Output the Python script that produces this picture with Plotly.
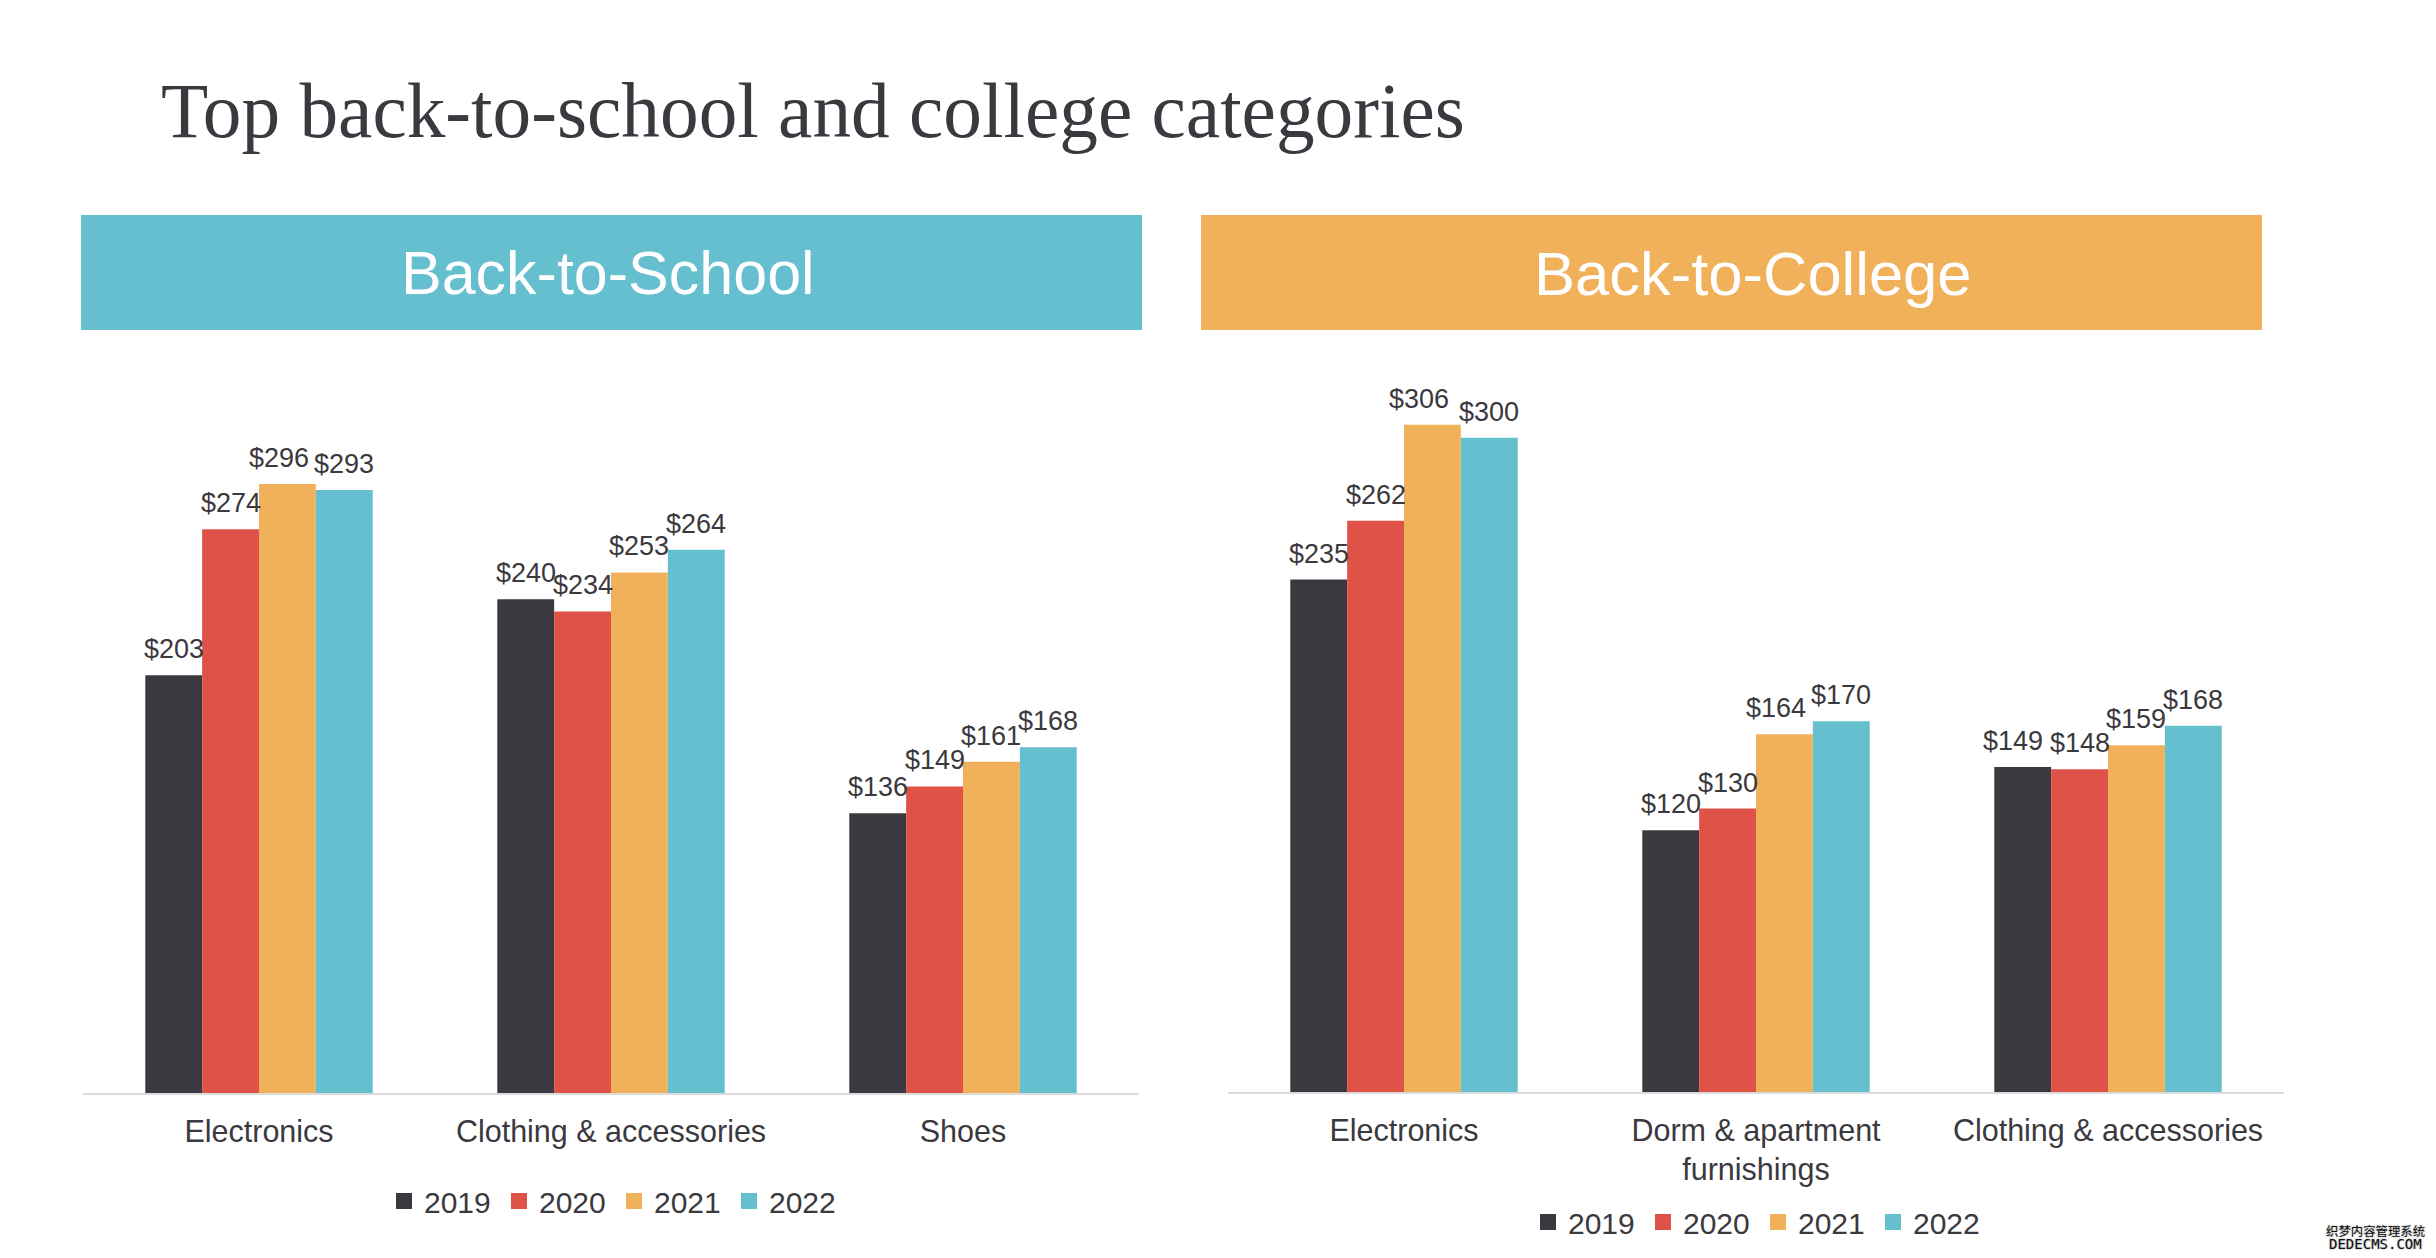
import plotly.graph_objects as go

W, H = 2436, 1258

years = ["2019", "2020", "2021", "2022"]
colors = ["#3b3840", "#df5247", "#f1b15b", "#66bfcf"]

school_categories = ["Electronics", "Clothing & accessories", "Shoes"]
school_2019 = [203, 240, 136]
school_2020 = [274, 234, 149]
school_2021 = [296, 253, 161]
school_2022 = [293, 264, 168]

college_categories = ["Electronics", "Dorm & apartment<br>furnishings", "Clothing & accessories"]
college_2019 = [235, 120, 149]
college_2020 = [262, 130, 148]
college_2021 = [306, 164, 159]
college_2022 = [300, 170, 168]

school_series = [school_2019, school_2020, school_2021, school_2022]
college_series = [college_2019, college_2020, college_2021, college_2022]

INK = "#3b3840"
SANS = "Liberation Sans, Arial, sans-serif"
SERIF = "Liberation Serif, Times New Roman, serif"

BAR_GAP = 0.354
CATEGORY_PX = 352  # axis length / 3 categories
BAR_PX = CATEGORY_PX * (1 - BAR_GAP) / len(years)
# (panel, series index, category index) -> sideways nudge of labels moved by hand in the original
label_nudge = {("x", 2, 0): -8, ("x2", 2, 0): -13, ("x2", 2, 1): -8, ("x2", 0, 2): -10}


def px(x):
    return (x - 8) / W  # the page has an 8 px body margin


def py(y):
    return 1 - (y - 8) / H


fig = go.Figure()
label_annotations = []

for i, year in enumerate(years):
    for cats, series, xa, ya in (
        (school_categories, school_series, "x", "y"),
        (college_categories, college_series, "x2", "y2"),
    ):
        fig.add_trace(go.Bar(
            x=cats, y=series[i], name=year, xaxis=xa, yaxis=ya,
            marker=dict(color=colors[i], line=dict(width=0)),
            showlegend=False, hoverinfo="x+y",
        ))
        for j, v in enumerate(series[i]):
            label_annotations.append(dict(
                text=f"${v}", xref=xa, yref=ya, x=j, y=v,
                xanchor="center", yanchor="bottom", showarrow=False,
                xshift=(i - 1.5) * BAR_PX + label_nudge.get((xa, i, j), 0), yshift=9,
                font=dict(family=SANS, size=27, color=INK),
            ))

# Legend entries: square keys of the reference's size, one legend per panel
for legend_id, xa, ya in (("legend", "x", "y"), ("legend2", "x2", "y2")):
    for i, year in enumerate(years):
        fig.add_trace(go.Scatter(
            x=[None], y=[None], name=year, mode="markers", xaxis=xa, yaxis=ya,
            marker=dict(symbol="square", size=16, color=colors[i]),
            legend=legend_id, showlegend=True,
        ))

axis_common = dict(
    showgrid=False, zeroline=False, showline=True, linecolor="#dcdcdc", linewidth=2,
    ticks="outside", ticklen=10, tickcolor="rgba(0,0,0,0)",
    tickfont=dict(family=SANS, size=30.5, color=INK), tickangle=0,
    automargin=False, fixedrange=True,
)
yaxis_common = dict(visible=False, showgrid=False, zeroline=False, automargin=False, fixedrange=True)

legend_common = dict(
    orientation="h", xanchor="left", yanchor="top",
    font=dict(family=SANS, size=30, color=INK),
    bgcolor="rgba(0,0,0,0)", entrywidth=70, entrywidthmode="pixels",
    itemsizing="trace", itemclick=False, itemdoubleclick=False,
)

fig.update_layout(
    width=W, height=H, autosize=False,
    margin=dict(l=0, r=0, t=0, b=0, autoexpand=False),
    paper_bgcolor="white", plot_bgcolor="white",
    barmode="group", bargap=BAR_GAP, bargroupgap=0,
    title=dict(
        text="Top back-to-school and college categories",
        font=dict(family=SERIF, size=77.3, color=INK),
        x=px(161), xanchor="left", xref="paper", y=py(110), yanchor="middle",
    ),
    xaxis=dict(domain=[px(83), px(1139)], anchor="y", **axis_common),
    xaxis2=dict(domain=[px(1228), px(2284)], anchor="y2", **axis_common),
    yaxis=dict(domain=[py(1093), py(380)], range=[0, 346.5], **yaxis_common),
    yaxis2=dict(domain=[py(1092), py(380)], range=[0, 326.5], **yaxis_common),
    legend=dict(x=px(384), y=py(1175), **legend_common),
    legend2=dict(x=px(1528), y=py(1196), **legend_common),
    shapes=[
        dict(type="rect", xref="paper", yref="paper", layer="below", line=dict(width=0),
             x0=px(81), x1=px(1142), y0=py(215), y1=py(330), fillcolor=colors[3]),
        dict(type="rect", xref="paper", yref="paper", layer="below", line=dict(width=0),
             x0=px(1201), x1=px(2262), y0=py(215), y1=py(330), fillcolor=colors[2]),
    ],
    annotations=label_annotations + [
        dict(text="Back-to-School", xref="paper", yref="paper", x=px(608), y=py(273),
             xanchor="center", yanchor="middle", showarrow=False,
             font=dict(family=SANS, size=61, color="white")),
        dict(text="Back-to-College", xref="paper", yref="paper", x=px(1753), y=py(273),
             xanchor="center", yanchor="middle", showarrow=False,
             font=dict(family=SANS, size=61.5, color="white")),
        dict(text="织梦内容管理系统", xref="paper", yref="paper", x=px(2375), y=py(1231),
             xanchor="center", yanchor="middle", showarrow=False,
             font=dict(family="Noto Sans CJK SC", size=12.4, color="#111111", shadow="0 0 2px #888888")),
        dict(text="DEDECMS.COM", xref="paper", yref="paper", x=px(2375), y=py(1244),
             xanchor="center", yanchor="middle", showarrow=False,
             font=dict(family="DejaVu Sans Mono", size=14, color="#111111", shadow="0 0 2px #888888")),
    ],
)

fig.write_html("out.html", config=dict(displayModeBar=False))
